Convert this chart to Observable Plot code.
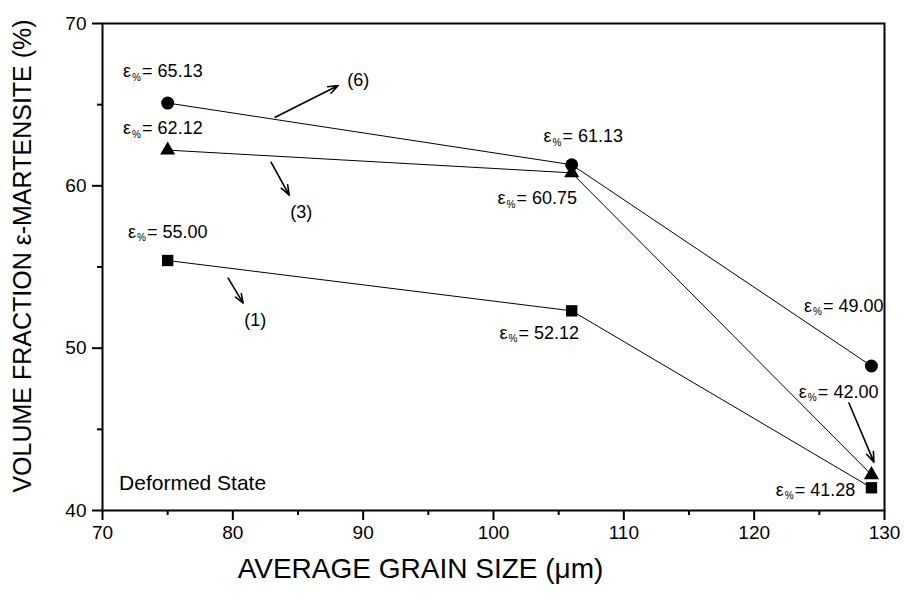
<!DOCTYPE html>
<html><head><meta charset="utf-8">
<script src="https://cdn.jsdelivr.net/npm/d3@7"></script>
<script src="https://cdn.jsdelivr.net/npm/@observablehq/plot@0.6"></script>
<style>
body{margin:0;background:#fff}
#chart svg{font-family:"Liberation Sans",Arial,Helvetica,sans-serif;overflow:visible}
</style>
</head><body><div id="chart"></div>
<script>
// Average grain size (µm) and volume fraction of ε-martensite (%)
const grainSize = [75, 106, 129];
const pass1 = [55.4, 52.3, 41.4];   // squares, (1)
const pass3 = [62.2, 60.8, 42.2];   // triangles, (3)
const pass6 = [65.1, 61.3, 48.9];   // circles, (6)

const xTicks = [70, 80, 90, 100, 110, 120, 130];
const xMinor = [75, 85, 95, 105, 115, 125];
const yTicks = [40, 50, 60, 70];
const yMinor = [45, 55, 65];

// value annotations
const labelText = ["65.13", "62.12", "55.00", "61.13", "60.75", "52.12", "49.00", "42.00", "41.28"];
const labelX = [71.58, 71.58, 71.96, 103.84, 100.30, 100.46, 123.82, 123.43, 121.66];
const labelY = [67.05, 63.54, 57.14, 63.05, 59.23, 50.92, 52.58, 47.29, 41.26];

// series call-outs
const calloutText = ["(6)", "(3)", "(1)", ""];
const calloutX = [89.63, 85.25, 81.72, null];
const calloutY = [66.49, 58.37, 51.72, null];
const arrowX1 = [83.25, 82.94, 79.64, 127.27];
const arrowY1 = [64.22, 61.45, 54.31, 46.62];
const arrowX2 = [88.09, 84.33, 80.79, 129.19];
const arrowY2 = [66.18, 59.42, 52.77, 42.98];

const note = "Deformed State";
const noteX = 71.27, noteY = 41.69;

const mk = (vals, name) => grainSize.map((g, i) => ({x: g, y: vals[i], series: name}));
const pts1 = mk(pass1, "(1)"), pts3 = mk(pass3, "(3)"), pts6 = mk(pass6, "(6)");
const allPts = [...pts1, ...pts3, ...pts6];
const labels = labelText.map((t, i) => ({t, x: labelX[i], y: labelY[i]}));
const arrows = arrowX1.map((x1, i) => ({x1, y1: arrowY1[i], x2: arrowX2[i], y2: arrowY2[i]}));
const callouts = calloutText.map((t, i) => ({t, x: calloutX[i], y: calloutY[i]})).filter(d => d.t);

const chart = Plot.plot({
  width: 905,
  height: 599,
  marginLeft: 102,
  marginRight: 21,
  marginTop: 23,
  marginBottom: 89,
  style: {fontFamily: "'Liberation Sans', Arial, sans-serif", background: "#fff", color: "#000"},
  x: {domain: [70, 130]},
  y: {domain: [40, 70]},
  marks: [
    Plot.frame({stroke: "#000", strokeWidth: 2}),
    Plot.axisX({ticks: xTicks, tickSize: 10, tickPadding: 5, strokeWidth: 2, fontSize: 19, label: null}),
    Plot.axisX({ticks: xMinor, tickSize: 5, strokeWidth: 2, tickFormat: () => "", label: null}),
    Plot.axisY({ticks: yTicks, tickSize: 10, tickPadding: 6, strokeWidth: 2, fontSize: 19, label: null}),
    Plot.axisY({ticks: yMinor, tickSize: 5, strokeWidth: 2, tickFormat: () => "", label: null}),
    Plot.text(["AVERAGE GRAIN SIZE (μm)"], {text: d => d, frameAnchor: "bottom", textAnchor: "middle", dx: -73, dy: 67, fontSize: 28}),
    Plot.text(["VOLUME FRACTION ε-MARTENSITE (%)"], {text: d => d, frameAnchor: "left", textAnchor: "middle", rotate: -90, dx: -80, dy: -11, fontSize: 25}),
    Plot.line(allPts, {x: "x", y: "y", z: "series", stroke: "#000", strokeWidth: 1}),
    Plot.dot(pts1, {x: "x", y: "y", symbol: "square", r: 6.4, fill: "#000"}),
    Plot.dot(pts3, {x: "x", y: "y", symbol: "triangle", r: 5.6, fill: "#000"}),
    Plot.dot(pts6, {x: "x", y: "y", symbol: "circle", r: 6.5, fill: "#000"}),
    Plot.text(labels, {x: "x", y: "y", text: () => "ε", textAnchor: "start", fontSize: 18}),
    Plot.text(labels, {x: "x", y: "y", text: () => "%", textAnchor: "start", dx: 9, dy: 6, fontSize: 10}),
    Plot.text(labels, {x: "x", y: "y", text: d => "= " + d.t, textAnchor: "start", dx: 19, fontSize: 18}),
    Plot.arrow(arrows, {x1: "x1", y1: "y1", x2: "x2", y2: "y2", stroke: "#000", strokeWidth: 1.6, headLength: 10, headAngle: 40}),
    Plot.text(callouts, {x: "x", y: "y", text: "t", fontSize: 18}),
    Plot.text([note], {x: () => noteX, y: () => noteY, text: d => d, textAnchor: "start", fontSize: 21})
  ]
});
document.getElementById("chart").appendChild(chart);
</script>
</body></html>
